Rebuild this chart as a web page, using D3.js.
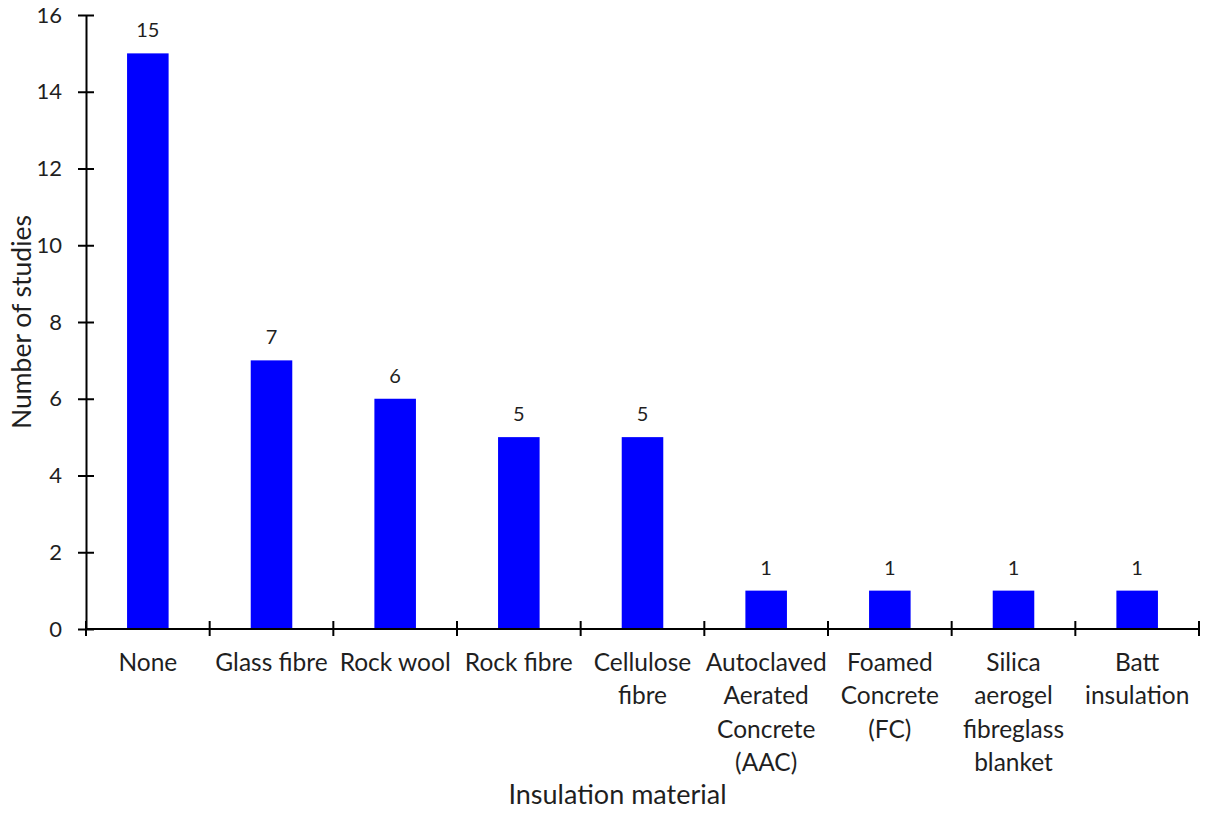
<!DOCTYPE html>
<html>
<head>
<meta charset="utf-8">
<script src="https://cdn.jsdelivr.net/npm/d3@7"></script>
<style>
  body { margin: 0; background: #fff; }
  text { font-family: Lato, "Open Sans", sans-serif; fill: #1f1f1f; }
</style>
</head>
<body>
<svg id="chart" width="1205" height="813"></svg>
<script>
// Insulation materials (line breaks mark how the axis labels wrap)
const categories = [
  "None",
  "Glass fibre",
  "Rock wool",
  "Rock fibre",
  "Cellulose\nfibre",
  "Autoclaved\nAerated\nConcrete\n(AAC)",
  "Foamed\nConcrete\n(FC)",
  "Silica\naerogel\nfibreglass\nblanket",
  "Batt\ninsulation"
];
const studies = [15, 7, 6, 5, 5, 1, 1, 1, 1];
const yTicks = [0, 2, 4, 6, 8, 10, 12, 14, 16];

const svg = d3.select("#chart");
const margin = { left: 86, right: 6, top: 15, bottom: 184 };
const W = 1205, H = 813;

const x = d3.scaleBand()
  .domain(categories)
  .range([margin.left, W - margin.right])
  .paddingInner(0.664)
  .paddingOuter(0.332);

const y = d3.scaleLinear()
  .domain([0, 16])
  .range([H - margin.bottom, margin.top]);

// Bars
svg.append("g")
  .selectAll("rect")
  .data(categories)
  .join("rect")
  .attr("x", d => x(d))
  .attr("width", x.bandwidth())
  .attr("y", (d, i) => y(studies[i]))
  .attr("height", (d, i) => y(0) - y(studies[i]))
  .attr("fill", "#0000FF");

// Value labels
svg.append("g")
  .selectAll("text")
  .data(categories)
  .join("text")
  .attr("x", d => x(d) + x.bandwidth() / 2)
  .attr("y", (d, i) => y(studies[i]) - 16)
  .attr("text-anchor", "middle")
  .style("font-size", "20px")
  .text((d, i) => studies[i]);

// Y axis
const yAxis = svg.append("g")
  .attr("transform", `translate(${margin.left},0)`)
  .call(d3.axisLeft(y).tickValues(yTicks).tickSize(0).tickPadding(24));
yAxis.select(".domain").attr("stroke", "#000").attr("stroke-width", 2);
yAxis.selectAll(".tick text").style("font-size", "22px").attr("fill", "#1f1f1f");
yAxis.selectAll(".tick").append("line")
  .attr("x1", -8).attr("x2", 8)
  .attr("stroke", "#000").attr("stroke-width", 2);

// X axis: boundary ticks between categories, crossing the axis line
const x0 = margin.left, x1 = W - margin.right;
const step = x.step();
const xAxis = svg.append("g");
xAxis.append("line")
  .attr("x1", x0).attr("x2", x1)
  .attr("y1", y(0)).attr("y2", y(0))
  .attr("stroke", "#000").attr("stroke-width", 2);
xAxis.selectAll("line.tick")
  .data(d3.range(categories.length + 1))
  .join("line")
  .attr("class", "tick")
  .attr("x1", i => x0 + i * step).attr("x2", i => x0 + i * step)
  .attr("y1", y(0) - 8).attr("y2", y(0) + 7)
  .attr("stroke", "#000").attr("stroke-width", 2);

// Category labels
const lab = svg.append("g")
  .selectAll("text")
  .data(categories)
  .join("text")
  .attr("text-anchor", "middle")
  .style("font-size", "24.5px")
  .attr("transform", d => `translate(${x(d) + x.bandwidth() / 2},${y(0) + 42})`);
lab.selectAll("tspan")
  .data(d => d.split("\n"))
  .join("tspan")
  .attr("x", 0)
  .attr("y", (d, i) => i * 33.3)
  .text(d => d);

// Axis titles
svg.append("text")
  .attr("x", (x0 + x1) / 2 - 25)
  .attr("y", 804)
  .attr("text-anchor", "middle")
  .style("font-size", "27px")
  .text("Insulation material");

svg.append("text")
  .attr("transform", `translate(31,${y(8)}) rotate(-90)`)
  .attr("text-anchor", "middle")
  .style("font-size", "26.5px")
  .text("Number of studies");
</script>
</body>
</html>
